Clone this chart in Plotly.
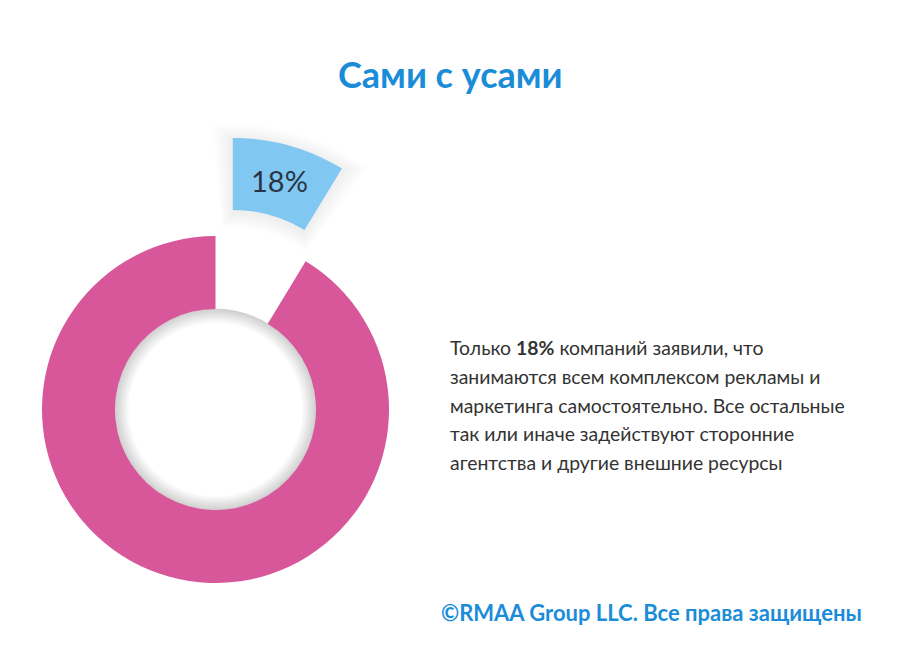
import math
import plotly.graph_objects as go

W, H = 900, 658

# ---- data ----
labels = ["Сами", "Остальные"]
arc_share = [8.7, 91.3]          # drawn angular share of each slice (%)
label_value = 18                 # printed label of the highlighted slice (%)
title_text = "Сами с усами"
body_lines = [
    "Только <b>18%</b> компаний заявили, что",
    "занимаются всем комплексом рекламы и",
    "маркетинга самостоятельно. Все остальные",
    "так или иначе задействуют сторонние",
    "агентства и другие внешние ресурсы",
]
footer_text = "©RMAA Group LLC. Все права защищены"

PINK = "#D8579B"
BLUE = "#80C8F2"
CLEAR = "rgba(0,0,0,0)"

# geometry (px)
cx, cy = 215.5, 409.5
R_out, R_in = 173.5, 100.5
B_out, B_in = 210.0, 138.0
pull_px = 64.0


def dom(x0, y0, r):
    return dict(x=[(x0 - r) / W, (x0 + r) / W], y=[1 - (y0 + r) / H, 1 - (y0 - r) / H])


fig = go.Figure()

# inner shadow of the hole
for k in range(1, 13):
    fig.add_trace(go.Pie(values=[1], labels=["s"], domain=dom(cx, cy, R_in + 0.5),
                         hole=(R_in + 0.5 - k * 1.2) / (R_in + 0.5), textinfo="none",
                         marker=dict(colors=["rgba(0,0,0,0.016)"]), sort=False,
                         showlegend=False, hoverinfo="skip"))

# main pink ring
fig.add_trace(go.Pie(values=arc_share, labels=labels, domain=dom(cx, cy, R_out),
                     hole=R_in / R_out, sort=False, direction="clockwise", rotation=0,
                     textinfo="none", marker=dict(colors=[CLEAR, PINK]),
                     showlegend=False, hoverinfo="skip"))

# pulled-out highlighted slice
blue_deg = arc_share[0] * 3.6
mid = math.radians(blue_deg / 2)
bx = cx + pull_px * math.sin(mid)
by = cy - pull_px * math.cos(mid)

# soft shadow around the blue slice
for e in [16, 14, 12, 10, 8, 6, 4, 2]:
    d = math.degrees(e / 175)
    ro, ri = B_out + e, B_in - e
    fig.add_trace(go.Pie(values=[blue_deg + 2 * d, 360 - blue_deg - 2 * d], labels=["a", "b"],
                         domain=dom(bx, by + 2, ro), hole=ri / ro, sort=False,
                         direction="clockwise", rotation=-d, textinfo="none",
                         marker=dict(colors=["rgba(0,0,0,0.009)", CLEAR]),
                         showlegend=False, hoverinfo="skip"))

fig.add_trace(go.Pie(values=arc_share, labels=labels, domain=dom(bx, by, B_out),
                     hole=B_in / B_out, sort=False, direction="clockwise", rotation=0,
                     textinfo="none", marker=dict(colors=[BLUE, CLEAR]),
                     showlegend=False, hoverinfo="skip"))

rm = (B_out + B_in) / 2
lx = bx + rm * math.sin(mid)
ly = by - rm * math.cos(mid)

ann = [
    dict(text=f"{label_value}%", x=lx / W, y=1 - ly / H, xanchor="center", yanchor="middle",
         font=dict(family="Lato", size=29, color="#2B3444")),
    dict(text=f"<b>{title_text}</b>", x=450 / W, y=1 - 74 / H, xanchor="center", yanchor="middle",
         font=dict(family="Lato", size=36, color="#1A8CD8")),
    dict(text=f"<b>{footer_text}</b>", x=864 / W, y=1 - 612 / H, xanchor="right", yanchor="middle",
         font=dict(family="Lato", size=22, color="#1A8CD8")),
]
for i, line in enumerate(body_lines):
    ann.append(dict(text=line, x=448 / W, y=1 - (347 + i * 29) / H,
                    xanchor="left", yanchor="middle",
                    font=dict(family="Lato", size=19.4, color="#333333")))
for a in ann:
    a.update(xref="paper", yref="paper", showarrow=False)

fig.update_layout(width=W, height=H, margin=dict(l=0, r=0, t=0, b=0),
                  paper_bgcolor="white", plot_bgcolor="white", annotations=ann,
                  showlegend=False)

fig.write_html("out.html")
